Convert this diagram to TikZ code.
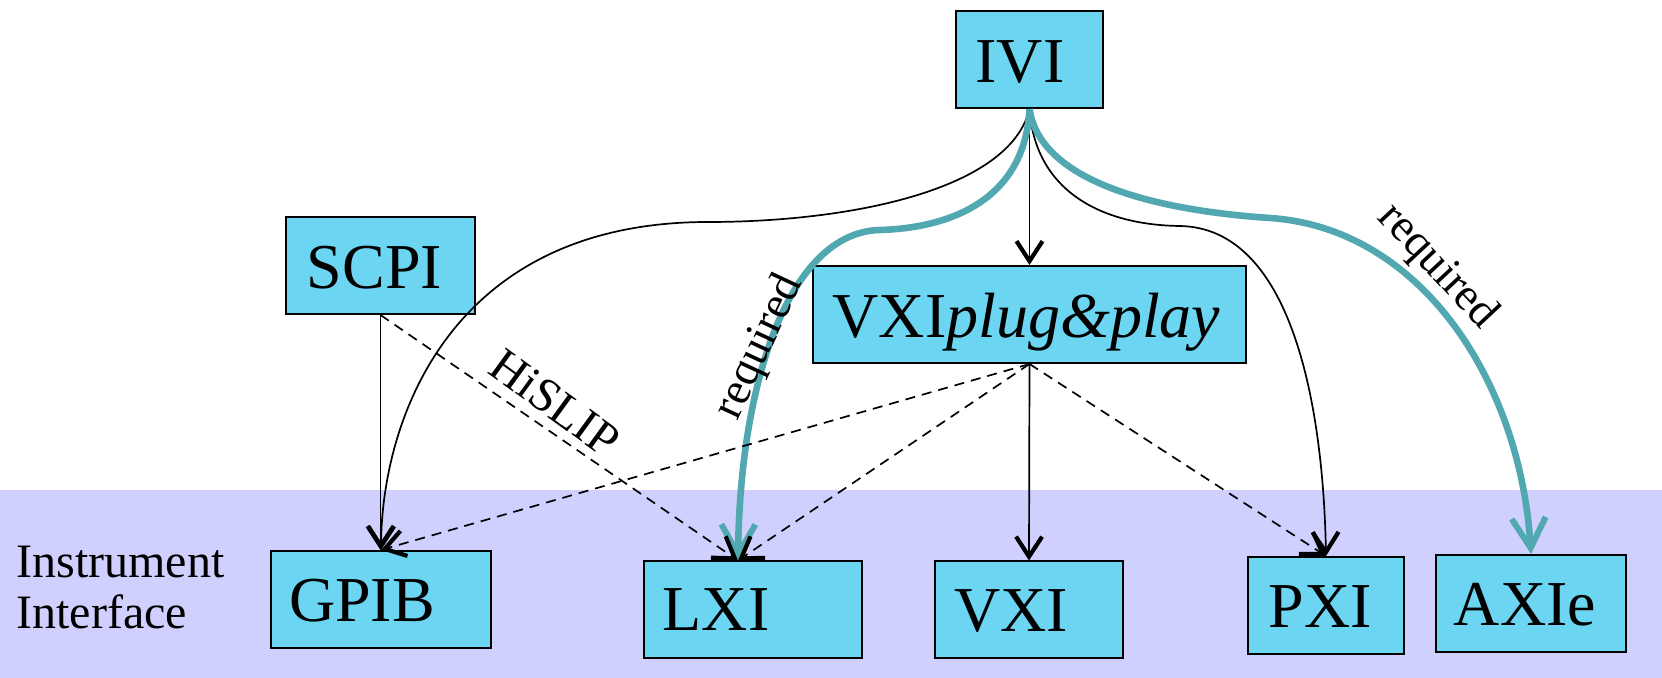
\documentclass[tikz,border=0pt]{standalone}
\usepackage{fontspec}
\setmainfont{Liberation Serif}
\usetikzlibrary{arrows.meta}
\definecolor{boxblue}{RGB}{108,213,242}
\definecolor{bandlav}{RGB}{208,208,255}
\definecolor{tealc}{RGB}{82,168,176}
\begin{document}
\begin{tikzpicture}[x=0.5pt,y=-0.5pt,
  box/.style={draw=black, line width=1pt, fill=boxblue, inner sep=0pt, minimum height=48.5pt},
  boxtext/.style={font=\fontsize{32}{36}\selectfont, text height=0.66em, text depth=0pt, inner sep=0pt},
  conn/.style={line width=0.85pt, draw=black},
  tipk/.style={-{Straight Barb[length=10pt,width=13pt,line width=2.1pt]}},
  dashline/.style={conn, dash pattern=on 5pt off 3.5pt},
  req/.style={draw=tealc, line width=3.3pt, -{Straight Barb[length=15pt,width=17pt,line width=3pt]}},
  lbl/.style={font=\fontsize{23}{26}\selectfont, inner sep=0pt}]
\useasboundingbox (0,0) rectangle (1662,678);
\fill[white] (0,0) rectangle (1662,678);
\fill[bandlav] (0,490) rectangle (1662,678);

% boxes
\node[box, minimum width=73.5pt, label={[boxtext,xshift=-4.75pt,yshift=-8pt]center:IVI}] (ivi) at (1029.5,59.5) {};
\node[box, minimum width=94.5pt, label={[boxtext,xshift=-3pt,yshift=-8pt]center:SCPI}] (scpi) at (380.5,265.5) {};
\node[box, minimum width=216.5pt, label={[boxtext,xshift=-1.5pt,yshift=-8pt]center:VXI\textit{plug\&play}}] (vxipp) at (1029.5,314.5) {};
\node[box, minimum width=110pt, label={[boxtext,xshift=-9.5pt,yshift=-7.5pt]center:GPIB}] (gpib) at (381,599.5) {};
\node[box, minimum width=109pt, label={[boxtext,xshift=-18.5pt,yshift=-7pt]center:LXI}] (lxi) at (753,610) {};
\node[box, minimum width=94pt, label={[boxtext,xshift=-9pt,yshift=-7.5pt]center:VXI}] (vxi) at (1029,610) {};
\node[box, minimum width=78pt, label={[boxtext,xshift=-3pt,yshift=-7.5pt]center:PXI}] (pxi) at (1326,605.5) {};
\node[box, minimum width=95pt, label={[boxtext,xshift=-3pt,yshift=-7.5pt]center:AXIe}] (axie) at (1531,603.5) {};

\node[font=\fontsize{24}{25.5}\selectfont, align=left, anchor=north west, inner sep=0pt] (iface) at (16,546) {Instrument\\Interface};

\coordinate (lxiin) at ([xshift=-7.5pt]lxi.north);

% connectors from IVI
\draw[conn,tipk] (ivi.south) .. controls (1010,190) and (850,222) .. (708,222) .. controls (450,222) and (382,420) .. (gpib.north);
\draw[conn,tipk] (ivi.south) -- (vxipp.north);
\draw[conn,tipk] (ivi.south) .. controls (1035,190) and (1100,225) .. (1180,226) .. controls (1290,228) and (1323,400) .. (pxi.north);
\draw[req] (ivi.south) .. controls (1025,200) and (950,228) .. (880,230) .. controls (790,232) and (740,380) .. (lxiin);
\draw[req] (ivi.south) .. controls (1040,180) and (1150,210) .. (1270,218) .. controls (1420,228) and (1520,380) .. (axie.north);

% from SCPI
\draw[conn,tipk] (scpi.south) -- (scpi.south |- gpib.north);
\draw[dashline,tipk] (scpi.south) -- (lxiin);

% from VXIplug&play
\draw[dashline,tipk] (vxipp.south) -- (gpib.north);
\draw[dashline,tipk] (vxipp.south) -- (lxiin);
\draw[dashline,tipk] (vxipp.south) -- (pxi.north);
\draw[conn,tipk] (vxipp.south) -- (vxi.north);

% labels
\node[lbl, rotate=65] (req1) at (760,347) {required};
\node[lbl, rotate=-47] (req2) at (1437,267) {required};
\node[lbl, font=\fontsize{24}{26}\selectfont, rotate=-36] (hislip) at (555,403) {HiSLIP};
\end{tikzpicture}
\end{document}
